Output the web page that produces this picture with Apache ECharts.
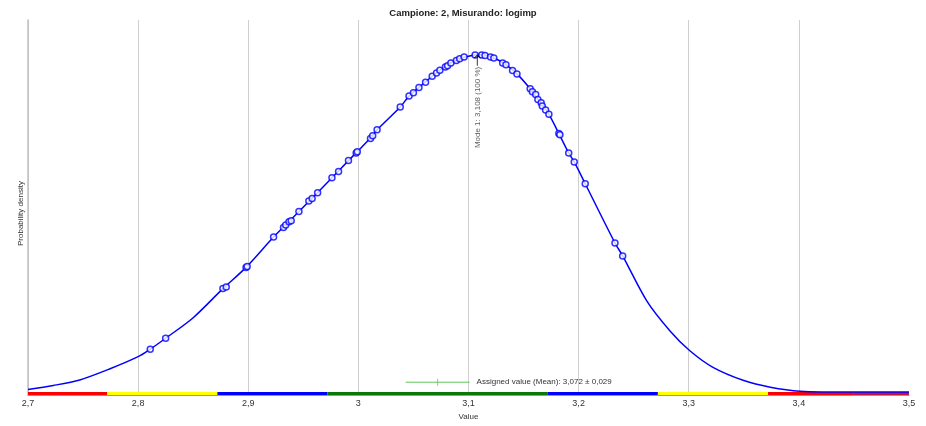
<!DOCTYPE html>
<html>
<head>
<meta charset="utf-8">
<script src="https://cdn.jsdelivr.net/npm/echarts@6/dist/echarts.min.js"></script>
<style>
html,body{margin:0;padding:0;background:#fff;}
#chart{width:926px;height:426px;}
</style>
</head>
<body>
<div id="chart"></div>
<script>
// ---- data ----
const titleText = 'Campione: 2, Misurando: logimp';
const xTickLabels = ['2,7','2,8','2,9','3','3,1','3,2','3,3','3,4','3,5'];

// density curve (x value, probability density)
const curveX = [2.700,2.723,2.747,2.774,2.800,2.811,2.825,2.850,2.877,2.898,2.923,2.937,2.946,2.956,2.963,2.976,2.991,2.999,3.012,3.017,3.038,3.046,3.055,3.067,3.074,3.084,3.092,3.100,3.108,3.116,3.123,3.132,3.144,3.156,3.163,3.173,3.182,3.191,3.196,3.206,3.233,3.240,3.262,3.283,3.301,3.322,3.350,3.374,3.401,3.450,3.500];
const curveY = [0.027,0.067,0.123,0.233,0.357,0.433,0.543,0.750,1.043,1.257,1.563,1.717,1.820,1.933,2.010,2.160,2.333,2.423,2.573,2.643,2.873,2.983,3.070,3.183,3.243,3.317,3.360,3.385,3.400,3.392,3.367,3.315,3.207,3.057,2.950,2.800,2.607,2.410,2.320,2.100,1.503,1.373,0.917,0.617,0.417,0.250,0.117,0.050,0.010,0.000,0.000];

// measured results (circles on the curve)
const pointX = [2.811,2.825,2.877,2.880,2.898,2.899,2.923,2.932,2.934,2.937,2.939,2.946,2.955,2.958,2.963,2.976,2.982,2.991,2.998,2.999,3.011,3.013,3.017,3.038,3.046,3.050,3.055,3.061,3.067,3.071,3.074,3.079,3.081,3.084,3.089,3.092,3.096,3.106,3.112,3.115,3.120,3.123,3.131,3.134,3.140,3.144,3.156,3.158,3.161,3.163,3.166,3.167,3.170,3.173,3.182,3.183,3.191,3.196,3.206,3.233,3.240];
const pointY = [0.433,0.543,1.043,1.060,1.257,1.265,1.563,1.660,1.683,1.717,1.727,1.820,1.927,1.950,2.010,2.160,2.223,2.333,2.410,2.423,2.557,2.583,2.643,2.873,2.983,3.017,3.070,3.123,3.183,3.217,3.243,3.277,3.290,3.317,3.343,3.360,3.377,3.397,3.397,3.393,3.377,3.367,3.317,3.300,3.240,3.207,3.057,3.027,3.000,2.950,2.917,2.883,2.843,2.800,2.607,2.593,2.410,2.320,2.100,1.503,1.373];

// mode
const modeX = 3.108;
const modeY = 3.400;
const modeLabel = 'Mode 1: 3,108 (100 %)';

// assigned value
const assignedMean = 3.072;
const assignedUnc = 0.029;
const assignedLevel = 0.10;
const assignedLabel = 'Assigned value (Mean): 3,072 \u00b1 0,029';

// score bands along the axis
const bandStart = [2.700,2.772,2.872,2.972,3.172,3.272,3.372,3.450];
const bandEnd   = [2.772,2.872,2.972,3.172,3.272,3.372,3.450,3.500];
const bandColor = ['#ff0000','#ffff00','#0000ff','#087808','#0000ff','#ffff00','#ff0000','#c0143c'];

// ---- chart ----
const chart = echarts.init(document.getElementById('chart'), null, {renderer:'canvas'});
const FONT = 'Liberation Sans, Arial, sans-serif';

const curveData = curveX.map((x,i)=>[x, curveY[i]]);
const pointData = pointX.map((x,i)=>[x, pointY[i]]);
const bandAreas = bandStart.map((s,i)=>[
  {xAxis: s, yAxis: -0.03, itemStyle:{color: bandColor[i]}},
  {xAxis: bandEnd[i], yAxis: 0}
]);

const option = {
  animation: false,
  backgroundColor: '#ffffff',
  title: {
    text: titleText,
    left: 'center',
    top: 3,
    textStyle: {fontFamily: FONT, fontSize: 9.5, fontWeight: 'bold', color: '#222'}
  },
  grid: {left: 28, right: 17, top: 20, bottom: 28, containLabel: false},
  xAxis: {
    type: 'value',
    min: 2.7, max: 3.5, interval: 0.1,
    name: 'Value',
    nameLocation: 'middle',
    nameGap: 14,
    nameTextStyle: {fontFamily: FONT, fontSize: 8, color: '#333'},
    axisLine: {show: true, onZero: false, lineStyle: {color: '#999', width: 1}},
    axisTick: {show: false},
    axisLabel: {
      margin: 4,
      fontFamily: FONT, fontSize: 9, color: '#333',
      formatter: v => xTickLabels[Math.round((v - 2.7) * 10)]
    },
    splitLine: {show: true, showMaxLine: false, lineStyle: {color: '#cfcfcf', width: 1}}
  },
  yAxis: {
    type: 'value',
    min: -0.03, max: 3.75,
    name: 'Probability density',
    nameLocation: 'middle',
    nameGap: 3,
    nameTextStyle: {fontFamily: FONT, fontSize: 8, color: '#333', padding: [0, 12, 0, 0]},
    axisLine: {show: true, lineStyle: {color: '#c0c0c0', width: 1.5}},
    axisTick: {show: false},
    axisLabel: {show: false},
    splitLine: {show: false}
  },
  series: [
    {
      type: 'line',
      name: 'bands',
      data: [],
      silent: true,
      markArea: {silent: true, data: bandAreas}
    },
    {
      type: 'line',
      name: 'density',
      data: curveData,
      smooth: 0.3,
      showSymbol: false,
      lineStyle: {color: '#0000ff', width: 1.5},
      z: 3
    },
    {
      type: 'scatter',
      name: 'results',
      data: pointData,
      symbol: 'circle',
      symbolSize: 6,
      itemStyle: {color: '#ffffff', borderColor: '#0000ff', borderWidth: 1.5},
      z: 4
    },
    {
      type: 'line',
      name: 'assigned',
      data: [[assignedMean - assignedUnc, assignedLevel], [assignedMean + assignedUnc, assignedLevel]],
      showSymbol: false,
      lineStyle: {color: '#5cc85c', width: 1},
      endLabel: {
        show: true,
        formatter: assignedLabel,
        distance: 7,
        fontFamily: FONT, fontSize: 8, color: '#333'
      },
      z: 5
    },
    {
      type: 'scatter',
      name: 'assignedTick',
      data: [[assignedMean, assignedLevel]],
      symbol: 'rect',
      symbolSize: [1, 7],
      itemStyle: {color: '#5cc85c'},
      z: 5
    },
    {
      type: 'scatter',
      name: 'mode',
      data: [[modeX, modeY]],
      symbol: 'path://M4.5,0 L0,4 L0.8,4.8 L4.3,1.8 L4.3,14 L5.7,14 L5.7,1.8 L9.2,4.8 L10,4 L5.5,0 Z',
      symbolSize: [7, 11],
      symbolOffset: [0, '50%'],
      itemStyle: {color: '#000000'},
      label: {
        show: true,
        formatter: modeLabel,
        position: 'bottom',
        rotate: 90,
        align: 'right',
        verticalAlign: 'middle',
        distance: 2,
        offset: [1, 0],
        fontFamily: FONT, fontSize: 8, color: '#333'
      },
      z: 6
    }
  ]
};
chart.setOption(option);
</script>
</body>
</html>
